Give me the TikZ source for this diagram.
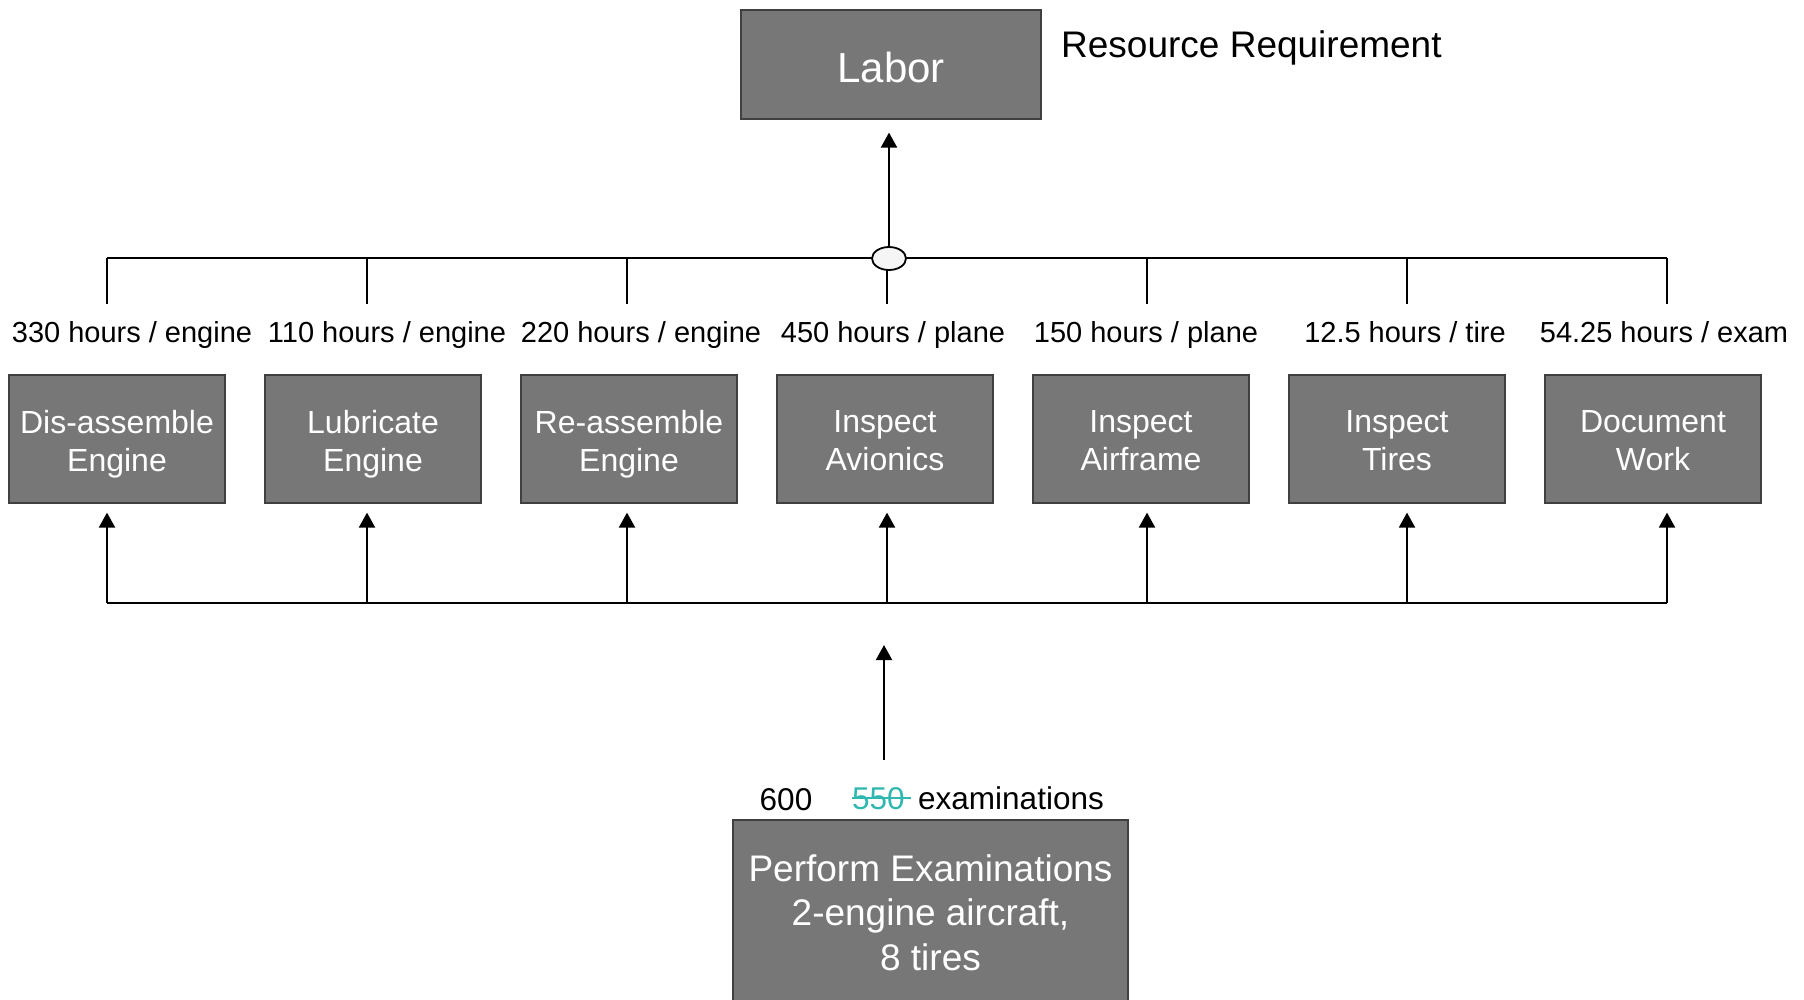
\documentclass[tikz,border=0pt]{standalone}
\usepackage{fontspec}
\setmainfont{Liberation Sans}
\usetikzlibrary{arrows.meta,shapes.geometric}
\definecolor{boxgray}{RGB}{119,119,119}
\definecolor{boxedge}{RGB}{64,64,64}
\definecolor{strikecol}{RGB}{48,184,176}
\definecolor{hubfill}{RGB}{245,245,245}
\begin{document}
\begin{tikzpicture}[x=1pt,y=-1pt,
  box/.style={draw=boxedge, line width=1.2pt, fill=boxgray, text=white,
    minimum width=216pt, minimum height=128pt, inner sep=0pt, align=center,
    font=\fontsize{32}{38}\selectfont},
  boxtext/.style={text=white, inner sep=0pt, align=center, font=\fontsize{32}{38}\selectfont},
  lbl/.style={font=\fontsize{29}{34}\selectfont, inner sep=0pt, anchor=base},
  conn/.style={line width=2pt, black},
  arr/.style={conn, -{Triangle[length=15pt,width=16pt]}},
  note/.style={font=\fontsize{31.5}{36}\selectfont, inner sep=0pt},
]
\useasboundingbox (0,0) rectangle (1804,999);
\clip (0,0) rectangle (1804,999);

% Labor
\node[box, minimum width=300pt, minimum height=109pt, text height=35.6pt, text depth=0pt, font=\fontsize{42}{50}\selectfont] (labor) at (891,64.5) {Labor};
\node[anchor=west, inner sep=0pt, font=\fontsize{37}{44}\selectfont] (res) at (1061,47.5) {Resource Requirement};

% top bus
\foreach \i in {1,...,7} {
  \coordinate (t\i) at ({107+260*(\i-1)},258);
  \coordinate (b\i) at ({107+260*(\i-1)},603);
}
\draw[conn] (t1) -- (t7);
\foreach \i in {1,...,7} { \draw[conn] (t\i) -- ++(0,46); }
\node[ellipse, draw, line width=1.8pt, fill=hubfill, minimum width=34pt, minimum height=23pt, inner sep=0pt] (hub) at (889,258.5) {};
\draw[arr, shorten >=13pt] (hub.north) -- (hub.north |- labor.south);

% labels
\node[lbl] (l1) at (132,342) {330 hours / engine};
\node[lbl] (l2) at (387,342) {110 hours / engine};
\node[lbl] (l3) at (641,342) {220 hours / engine};
\node[lbl] (l4) at (893,342) {450 hours / plane};
\node[lbl] (l5) at (1146,342) {150 hours / plane};
\node[lbl] (l6) at (1405,342) {12.5 hours / tire};
\node[lbl] (l7) at (1664,342) {54.25 hours / exam};

% activity boxes
\foreach \i/\x/\ta/\tb in {1/117/Dis-assemble/Engine, 2/373/Lubricate/Engine, 3/629/Re-assemble/Engine,
    4/885/Inspect/Avionics, 5/1141/Inspect/Airframe, 6/1397/Inspect/Tires, 7/1653/Document/Work} {
  \node[box] (a\i) at (\x,439) {};
  \node[boxtext] (a\i t) at (\x,444) {\vphantom{Ig}\ta\\\vphantom{Ig}\tb};
}

% bottom bus
\draw[conn] (b1) -- (b7);
\foreach \i in {1,...,7} { \draw[arr, shorten >=9pt] (b\i) -- (b\i |- a\i.south); }

% central arrow
\coordinate (cb) at (884,760);
\coordinate (ct) at (884,645);
\draw[arr] (cb) -- (ct);

% perform box
\node[box, minimum width=395pt, minimum height=185pt, font=\fontsize{37}{44.5}\selectfont] (perf) at (930.5,912.5) {Perform Examinations\\2-engine aircraft,\\8 tires};

\node[note, anchor=base] (six) at (786,810) {600};
\node[note, anchor=base west, text=strikecol] (old) at (852,809) {550};
\draw[strikecol, line width=1.5pt] ([yshift=11pt]old.base west) -- ([xshift=6pt,yshift=11pt]old.base east);
\node[note, anchor=base west] (exam) at (918,809) {examinations};
\end{tikzpicture}
\end{document}
